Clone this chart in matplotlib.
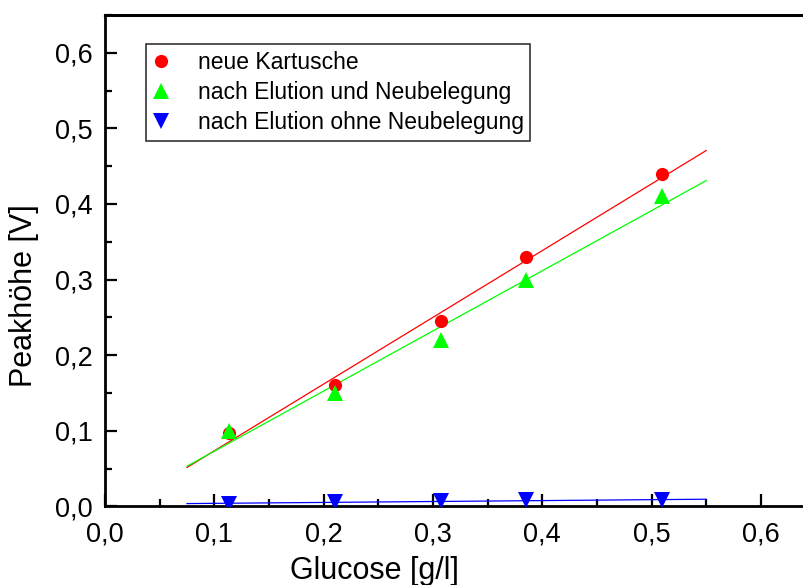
import matplotlib
matplotlib.use("Agg")
import matplotlib.pyplot as plt
import numpy as np
from matplotlib.ticker import MultipleLocator, FuncFormatter

plt.rcParams['font.family'] = ['Liberation Sans', 'DejaVu Sans']

# Glucose concentrations [g/l] and peak heights [V]
glucose = [0.113, 0.210, 0.307, 0.385, 0.510]
neue_kartusche = [0.097, 0.160, 0.245, 0.330, 0.440]
mit_neubelegung = [0.100, 0.150, 0.220, 0.300, 0.410]
ohne_neubelegung = [0.003, 0.006, 0.007, 0.008, 0.008]

series_labels = ["neue Kartusche",
                 "nach Elution und Neubelegung",
                 "nach Elution ohne Neubelegung"]
series_colors = ["#ff0000", "#00ff00", "#0000ff"]
series_markers = ["o", "^", "v"]
marker_sizes = [9.5, 11.5, 11.0]

# range of the regression lines
fit_range = (0.075, 0.55)

fig = plt.figure(figsize=(8.04, 5.85), dpi=100)
ax = fig.add_axes([105 / 804, 78.7 / 585, 710.5 / 804, 491.3 / 585])

x = np.asarray(glucose)
x_fit = np.linspace(*fit_range, 50)
for y, label, color, marker, ms in zip(
        [neue_kartusche, mit_neubelegung, ohne_neubelegung],
        series_labels, series_colors, series_markers, marker_sizes):
    slope, intercept = np.polyfit(x, y, 1)
    ax.plot(x_fit, slope * x_fit + intercept, color=color, lw=0.9, zorder=2)
    ax.plot(x, y, linestyle="none", marker=marker, ms=ms, color=color,
            markeredgewidth=0, label=label, zorder=3)

ax.set_xlim(0, 0.65)
ax.set_ylim(0, 0.65)

comma = FuncFormatter(lambda v, pos: f"{v:.1f}".replace(".", ","))
for axis in (ax.xaxis, ax.yaxis):
    axis.set_major_locator(MultipleLocator(0.1))
    axis.set_minor_locator(MultipleLocator(0.05))
    axis.set_major_formatter(comma)

ax.tick_params(which="both", direction="in", width=1.6, labelsize=19.5)
ax.tick_params(which="major", length=8.5)
ax.tick_params(which="minor", length=5)
ax.tick_params(axis="x", which="both", pad=11)
ax.tick_params(axis="y", which="both", pad=9)
for spine in ax.spines.values():
    spine.set_linewidth(2.0)

# short tick marks along the top frame
top = ax.secondary_xaxis("top")
top.xaxis.set_major_locator(MultipleLocator(0.05))
top.tick_params(direction="in", length=1.5, width=1.6, labeltop=False)
top.spines["top"].set_linewidth(2.0)

fig.text(374 / 804, 1 - 579 / 585, "Glucose [g/l]", fontsize=22,
         ha="center", va="baseline")
fig.text(24 / 804, 1 - 296 / 585, "Peakhöhe [V]", fontsize=22,
         ha="center", va="center", rotation=90)

leg = ax.legend(loc="upper left", bbox_to_anchor=(146 / 804, 1 - 44 / 585),
                bbox_transform=fig.transFigure, fontsize=16.5,
                frameon=True, fancybox=False, borderpad=0.3,
                handlelength=0.7, handletextpad=1.25, labelspacing=0.3,
                borderaxespad=0)
leg.get_frame().set_edgecolor("black")
leg.get_frame().set_linewidth(1.2)

fig.savefig("out.png", dpi=100)
